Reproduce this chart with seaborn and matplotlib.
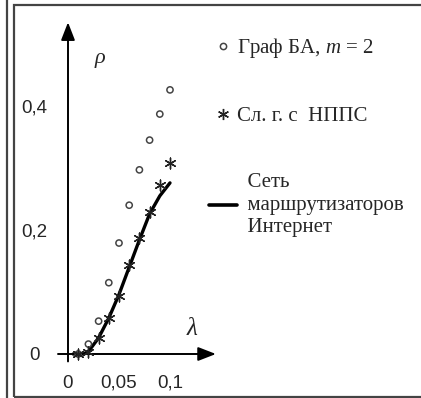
import matplotlib
matplotlib.use("Agg")
import matplotlib.pyplot as plt
import seaborn as sns
import pandas as pd
from matplotlib.lines import Line2D
from matplotlib.patches import Rectangle

# Data
lam = [0.01, 0.02, 0.03, 0.04, 0.05, 0.06, 0.07, 0.08, 0.09, 0.10]
rho_ba = [0.0, 0.016, 0.053, 0.115, 0.179, 0.240, 0.297, 0.345, 0.387, 0.426]
rho_sl = [0.0, 0.003, 0.025, 0.058, 0.094, 0.144, 0.187, 0.229, 0.273, 0.308]

lam_net = [0.005, 0.015, 0.02, 0.03, 0.04, 0.05, 0.06, 0.07, 0.08, 0.09, 0.10]
rho_net = [0.0, 0.0, 0.004, 0.026, 0.058, 0.096, 0.140, 0.184, 0.226, 0.255, 0.276]

x_ticks = [0, 0.05, 0.1]
x_labels = ["0", "0,05", "0,1"]
y_ticks = [0, 0.2, 0.4]
y_labels = ["0", "0,2", "0,4"]

labels = ["Граф БА, $m$ = 2", "Сл. г. с  НППС", "  Сеть\n  маршрутизаторов\n  Интернет"]

sns.set_style("white")
plt.rcParams["font.family"] = ["Liberation Sans", "DejaVu Sans"]
plt.rcParams["mathtext.fontset"] = "custom"
plt.rcParams["mathtext.it"] = "Liberation Serif:italic"
plt.rcParams["mathtext.rm"] = "Liberation Serif"

fig = plt.figure(figsize=(4.21, 3.98), dpi=100)
ax = fig.add_axes([0.13729, 0.07940, 0.38765, 0.88794])
ax.set_xlim(-0.01, 0.15)
ax.set_ylim(-0.02, 0.55)
ax.patch.set_alpha(0)

df_ba = pd.DataFrame({"lam": lam, "rho": rho_ba})
df_sl = pd.DataFrame({"lam": lam, "rho": rho_sl})
df_net = pd.DataFrame({"lam": lam_net, "rho": rho_net})

sns.lineplot(data=df_net, x="lam", y="rho", color="black", linewidth=2.4, ax=ax, zorder=3)
sns.scatterplot(data=df_ba, x="lam", y="rho", marker="o", s=20, facecolor="none",
                edgecolor="#444444", linewidth=1.1, ax=ax, zorder=4)
sns.scatterplot(data=df_sl, x="lam", y="rho", marker=(6, 2, 0), s=60,
                color="#222222", linewidth=1.0, ax=ax, zorder=4)

# axes with arrows
for s in ax.spines.values():
    s.set_visible(False)
ax.spines["left"].set_position(("data", 0))
ax.spines["bottom"].set_position(("data", 0))
arrow = dict(arrowstyle="-|>,head_length=0.9,head_width=0.35", color="black",
             lw=1.4, shrinkA=0, shrinkB=0, mutation_scale=12)
ax.annotate("", xy=(0, 0.535), xytext=(0, -0.012), arrowprops=arrow)
ax.annotate("", xy=(0.145, 0), xytext=(-0.0098, 0), arrowprops=arrow)

ax.set_xticks(x_ticks, x_labels)
ax.set_yticks(y_ticks, y_labels)
ax.tick_params(axis="x", direction="out", length=5, width=1.2, pad=10, labelsize=13.5)
ax.tick_params(axis="y", direction="out", length=5, width=1.2, pad=19, labelsize=13.5)
for t in ax.get_yticklabels():
    t.set_horizontalalignment("center")
ax.set_xlabel("")
ax.set_ylabel("")

ax.text(0.031, 0.477, "ρ", fontsize=16, family="Liberation Serif", style="italic",
        ha="center", va="center")
ax.text(0.122, 0.040, "λ", fontsize=18, family="Liberation Serif", style="italic",
        ha="center", va="center")

handles = [
    Line2D([], [], linestyle="none", marker="o", markersize=4.5, markerfacecolor="none",
           markeredgecolor="#444444", markeredgewidth=1.1),
    Line2D([], [], linestyle="none", marker=(6, 2, 0), markersize=8,
           color="#222222", markeredgewidth=1.0),
    Line2D([], [], color="black", linewidth=2.6),
]
leg = fig.legend(handles, labels, loc="upper left", bbox_to_anchor=(209 / 421, 1 - 36 / 398),
                 frameon=False, borderpad=0, borderaxespad=0, handlelength=1.34,
                 handletextpad=0.0, labelspacing=2.24,
                 prop={"family": "Liberation Serif", "size": 15})
for t in leg.get_texts():
    t.set_linespacing(1.27)

# frame around the panel
fig.add_artist(Line2D([6.5 / 421, 6.5 / 421], [0, 1], transform=fig.transFigure,
                      color="#444444", linewidth=1.6))
fig.add_artist(Rectangle((14.5 / 421, 1.5 / 398), 1.2, 391.5 / 398, transform=fig.transFigure,
                         fill=False, edgecolor="#444444", linewidth=1.6))

fig.savefig("out.png", dpi=100)
